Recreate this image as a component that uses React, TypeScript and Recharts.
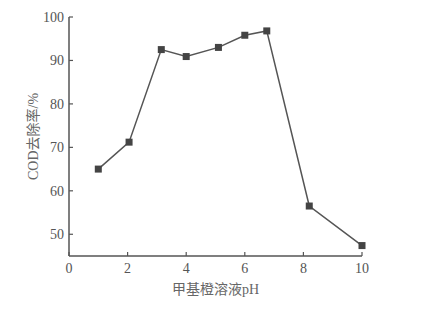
import { LineChart, Line, XAxis, YAxis } from "recharts";

// pH of the methyl orange solution vs. COD removal rate (%)
const phValues = [1, 2.05, 3.15, 4, 5.1, 6, 6.75, 8.2, 10];
const codRemoval = [65, 71.2, 92.5, 90.9, 93, 95.8, 96.8, 56.5, 47.4];
const xTicks = [0, 2, 4, 6, 8, 10];
const yTicks = [50, 60, 70, 80, 90, 100];

const data = phValues.map((ph, i) => ({ ph, cod: codRemoval[i] }));

const INK = "#555";
const FONT = "'Liberation Serif', 'DejaVu Serif', 'Noto Sans CJK SC', serif";

function YTick({ x, y, payload }: any) {
  return (
    <g>
      <line x1={x} y1={y} x2={x + 4} y2={y} stroke={INK} strokeWidth={1.2} />
      <text x={x - 5} y={y} dy={5} textAnchor="end" fontSize={14} fill={INK} fontFamily={FONT}>
        {payload.value}
      </text>
    </g>
  );
}

function XTick({ x, y, payload }: any) {
  return (
    <g>
      <line x1={x} y1={y} x2={x} y2={y - 4} stroke={INK} strokeWidth={1.2} />
      <text x={x} y={y + 17} textAnchor="middle" fontSize={14} fill={INK} fontFamily={FONT}>
        {payload.value}
      </text>
    </g>
  );
}

function SquareDot({ cx, cy }: any) {
  if (cx == null || cy == null) return null;
  return <rect x={cx - 3.5} y={cy - 3.5} width={7} height={7} fill="#444" />;
}

export default function App() {
  return (
    <LineChart
      width={414}
      height={304}
      data={data}
      margin={{ top: 9, right: 60, left: 0, bottom: 0 }}
    >
      <XAxis
        dataKey="ph"
        type="number"
        domain={[0, 10]}
        ticks={xTicks}
        height={56}
        tickSize={0}
        tickMargin={0}
        tick={<XTick />}
        axisLine={{ stroke: INK, strokeWidth: 1.5 }}
        tickLine={false}
        label={{
          content: ({ viewBox }: any) => (
            <text
              x={viewBox.x + viewBox.width / 2}
              y={viewBox.y + 38}
              textAnchor="middle"
              fontSize={14}
              fill="#666"
              fontFamily={FONT}
            >
              甲基橙溶液pH
            </text>
          ),
        }}
      />
      <YAxis
        type="number"
        domain={[45, 100]}
        ticks={yTicks}
        width={61}
        tickSize={0}
        tickMargin={0}
        tick={<YTick />}
        axisLine={{ stroke: INK, strokeWidth: 1.5 }}
        tickLine={false}
        label={{
          content: ({ viewBox }: any) => {
            const cx = viewBox.x + 25;
            const cy = viewBox.y + viewBox.height / 2;
            return (
              <text
                x={cx}
                y={cy}
                transform={`rotate(-90 ${cx} ${cy})`}
                textAnchor="middle"
                dominantBaseline="central"
                fontSize={14}
                fill="#666"
                fontFamily={FONT}
              >
                COD去除率/%
              </text>
            );
          },
        }}
      />
      <Line
        type="linear"
        dataKey="cod"
        stroke="#555"
        strokeWidth={1.5}
        dot={<SquareDot />}
        activeDot={false}
        isAnimationActive={false}
      />
    </LineChart>
  );
}
